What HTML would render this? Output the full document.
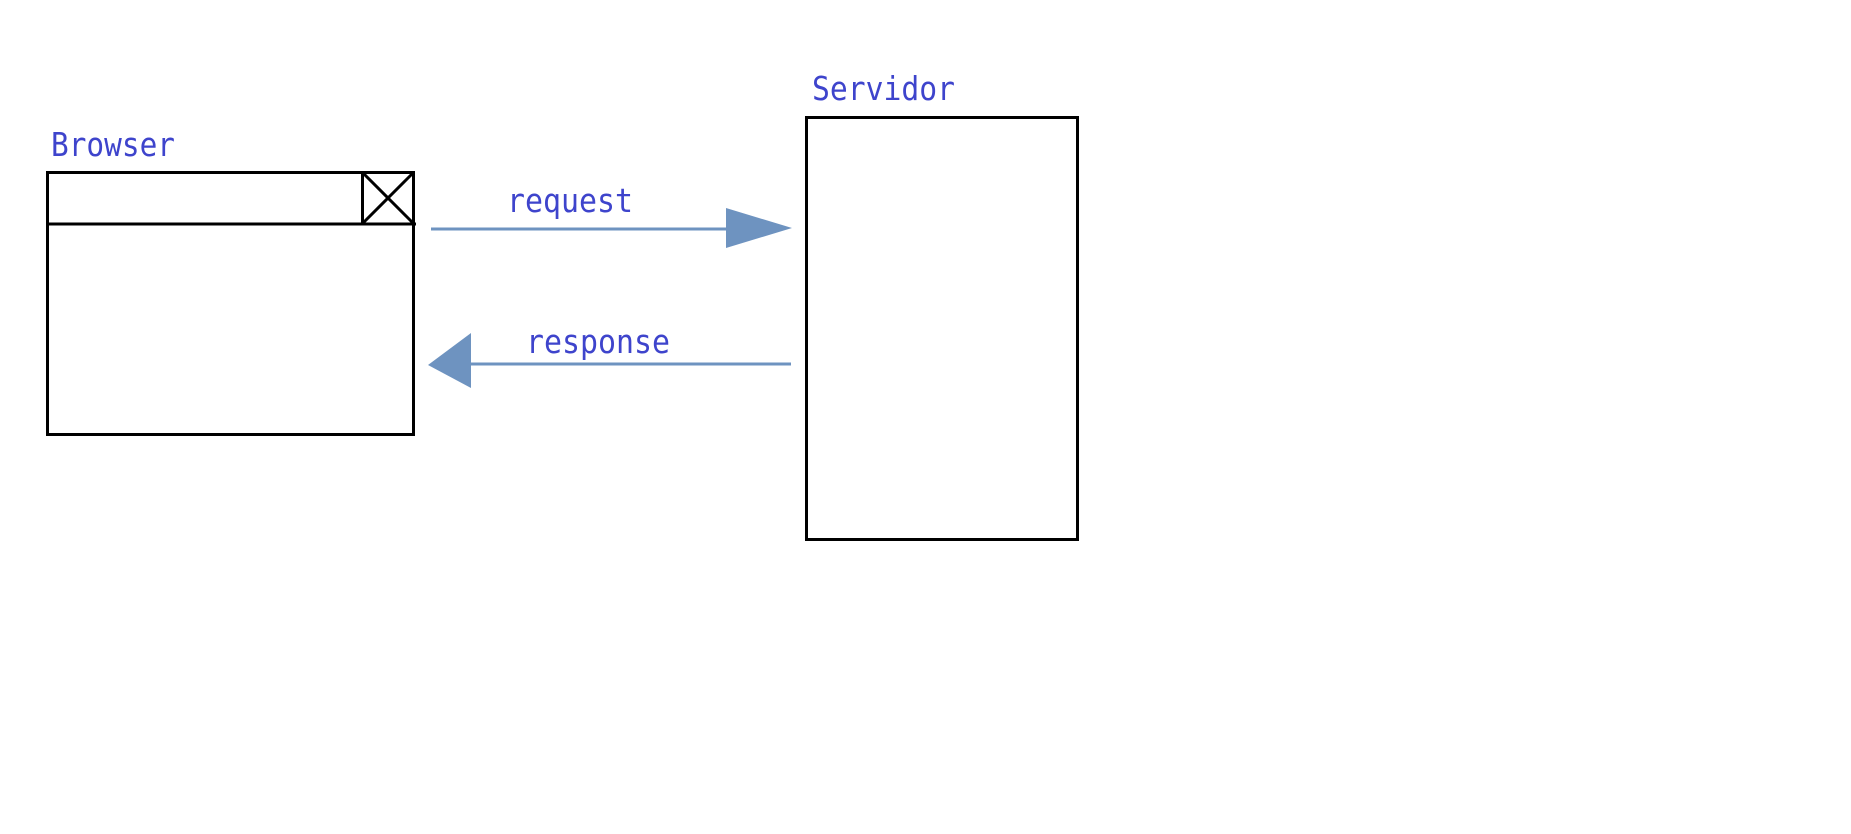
<!DOCTYPE html>
<html><head><style>
html,body{margin:0;padding:0;background:#fff;width:1851px;height:834px;overflow:hidden}
text{font-family:"DejaVu Sans Mono","Liberation Mono",monospace;font-size:33px;fill:#3e44cc}
</style></head><body>
<svg width="1851" height="834" xmlns="http://www.w3.org/2000/svg">
<text x="51" y="156" textLength="124" lengthAdjust="spacingAndGlyphs">Browser</text>
<rect x="47.5" y="172.5" width="366" height="262" fill="none" stroke="#000" stroke-width="3"/>
<line x1="47" y1="224" x2="416" y2="224" stroke="#000" stroke-width="3"/>
<rect x="362.5" y="172.5" width="51" height="51.5" fill="none" stroke="#000" stroke-width="3"/>
<line x1="362" y1="172" x2="414" y2="224" stroke="#000" stroke-width="3"/>
<line x1="414" y1="172" x2="362" y2="224" stroke="#000" stroke-width="3"/>
<text x="812" y="100" textLength="143" lengthAdjust="spacingAndGlyphs">Servidor</text>
<rect x="806.5" y="117.5" width="271" height="422" fill="none" stroke="#000" stroke-width="3"/>
<line x1="431" y1="229" x2="730" y2="229" stroke="#6e93c0" stroke-width="3"/>
<polygon points="726,208 792,228 726,248" fill="#6e93c0"/>
<text x="507" y="212" textLength="126" lengthAdjust="spacingAndGlyphs">request</text>
<line x1="468" y1="364" x2="791" y2="364" stroke="#6e93c0" stroke-width="3"/>
<polygon points="471,333 428,365 471,388" fill="#6e93c0"/>
<text x="526" y="353" textLength="144" lengthAdjust="spacingAndGlyphs">response</text>
</svg>
</body></html>
